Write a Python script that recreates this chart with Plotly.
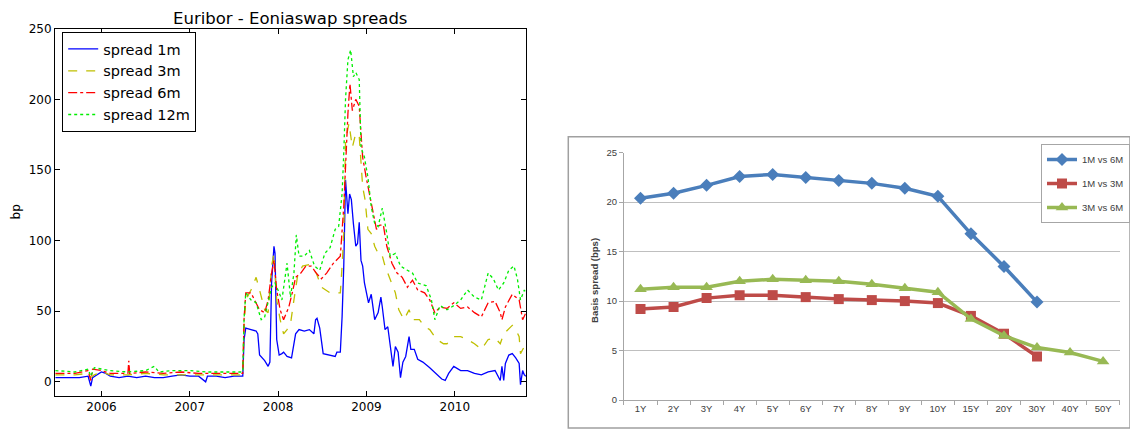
import plotly.graph_objects as go

# ---------------- Left chart data (decimal years, bp) ----------------
x_1m = [2005.48, 2005.60, 2005.75, 2005.85, 2005.88, 2005.90, 2005.95, 2006.00, 2006.05, 2006.10,
        2006.20, 2006.30, 2006.40, 2006.50, 2006.60, 2006.70, 2006.80, 2006.90, 2007.00, 2007.10,
        2007.18, 2007.20, 2007.30, 2007.40, 2007.50, 2007.60, 2007.615, 2007.634, 2007.693, 2007.751,
        2007.770, 2007.790, 2007.848, 2007.887, 2007.907, 2007.926, 2007.953, 2007.965, 2007.984, 2008.012,
        2008.043, 2008.062, 2008.101, 2008.152, 2008.198, 2008.237, 2008.296, 2008.354, 2008.405, 2008.424,
        2008.440, 2008.471, 2008.510, 2008.588, 2008.646, 2008.665, 2008.704, 2008.724, 2008.743, 2008.763,
        2008.790, 2008.809, 2008.829, 2008.852, 2008.879, 2008.899, 2008.918, 2008.938, 2008.957, 2008.977,
        2008.996, 2009.023, 2009.054, 2009.074, 2009.093, 2009.132, 2009.163, 2009.179, 2009.210, 2009.241,
        2009.268, 2009.300, 2009.327, 2009.358, 2009.385, 2009.412, 2009.444, 2009.482, 2009.502, 2009.541,
        2009.580, 2009.638, 2009.716, 2009.794, 2009.852, 2009.891, 2009.930, 2009.988, 2010.066, 2010.144,
        2010.222, 2010.300, 2010.377, 2010.455, 2010.494, 2010.514, 2010.533, 2010.553, 2010.572, 2010.611,
        2010.650, 2010.689, 2010.728, 2010.743, 2010.767, 2010.786, 2010.805]
y_1m = [3, 3, 3, 4, -3, 3, 5, 7, 6, 4,
        3, 4, 3, 4, 3, 3, 4, 5, 4, 4,
        0, 4, 4, 3, 4, 4, 30, 38, 37, 36,
        34, 19, 15, 11, 14, 70, 96, 91, 30, 19,
        20, 21, 18, 17, 34, 37, 36, 37, 34, 44,
        45, 38, 20, 19, 18, 21, 21, 46, 82, 143,
        119, 133, 129, 112, 96, 98, 113, 86, 82, 70,
        65, 56, 62, 52, 44, 49, 60, 53, 37, 39,
        25, 11, 25, 21, 3, 14, 18, 32, 23, 23,
        16, 14, 10, 5, 2, 1, 6, 11, 8, 8,
        6, 5, 7, 8, 4, 1, 11, 1, 13, 19,
        20, 17, 13, -2, 8, 5, 4]

x_3m = [2005.48, 2005.70, 2005.85, 2005.88, 2005.92, 2006.00, 2006.10, 2006.30, 2006.50, 2006.70,
        2006.90, 2007.10, 2007.30, 2007.50, 2007.60, 2007.615, 2007.634, 2007.693, 2007.751, 2007.790,
        2007.848, 2007.887, 2007.926, 2007.953, 2007.984, 2008.023, 2008.062, 2008.101, 2008.140, 2008.179,
        2008.218, 2008.276, 2008.354, 2008.432, 2008.490, 2008.588, 2008.704, 2008.724, 2008.743, 2008.763,
        2008.802, 2008.840, 2008.879, 2008.918, 2008.938, 2008.957, 2008.984, 2009.016, 2009.054, 2009.093,
        2009.132, 2009.171, 2009.210, 2009.268, 2009.327, 2009.366, 2009.424, 2009.482, 2009.521, 2009.599,
        2009.658, 2009.716, 2009.794, 2009.872, 2009.911, 2009.988, 2010.066, 2010.144, 2010.222, 2010.300,
        2010.377, 2010.455, 2010.514, 2010.553, 2010.611, 2010.650, 2010.689, 2010.728, 2010.743, 2010.786,
        2010.805]
y_3m = [5, 5, 6, 3, 5, 7, 5, 5, 6, 5,
        5, 5, 5, 5, 5, 40, 58, 65, 74, 65,
        51, 49, 82, 91, 58, 44, 34, 37, 41, 58,
        74, 82, 83, 77, 67, 63, 63, 82, 105, 171,
        183, 166, 176, 174, 157, 138, 129, 108, 105, 96,
        91, 91, 82, 72, 63, 51, 44, 51, 44, 44,
        39, 37, 30, 27, 27, 32, 32, 30, 27, 23,
        30, 31, 27, 34, 38, 40, 37, 32, 20, 25,
        26]

x_6m = [2005.48, 2005.70, 2005.85, 2005.88, 2005.90, 2006.00, 2006.10, 2006.30, 2006.31, 2006.32,
        2006.50, 2006.70, 2006.90, 2007.10, 2007.30, 2007.50, 2007.60, 2007.615, 2007.634, 2007.693,
        2007.732, 2007.790, 2007.848, 2007.887, 2007.926, 2007.953, 2007.984, 2008.023, 2008.062, 2008.121,
        2008.160, 2008.198, 2008.257, 2008.315, 2008.374, 2008.432, 2008.490, 2008.549, 2008.626, 2008.704,
        2008.743, 2008.763, 2008.790, 2008.813, 2008.840, 2008.879, 2008.918, 2008.938, 2008.957, 2008.996,
        2009.035, 2009.074, 2009.113, 2009.152, 2009.191, 2009.230, 2009.288, 2009.346, 2009.405, 2009.463,
        2009.521, 2009.580, 2009.658, 2009.716, 2009.774, 2009.833, 2009.911, 2009.988, 2010.066, 2010.144,
        2010.222, 2010.300, 2010.377, 2010.455, 2010.514, 2010.533, 2010.572, 2010.650, 2010.689, 2010.728,
        2010.767, 2010.805]
y_6m = [6, 6, 8, 1, 9, 8, 6, 6, 15, 6,
        7, 6, 7, 6, 6, 6, 6, 45, 63, 63,
        58, 51, 49, 58, 77, 86, 65, 51, 44, 53,
        63, 74, 77, 82, 82, 77, 73, 77, 84, 89,
        124, 157, 190, 211, 192, 200, 195, 176, 159, 145,
        133, 122, 108, 111, 111, 96, 84, 77, 74, 67,
        72, 65, 63, 58, 49, 53, 52, 56, 52, 53,
        49, 46, 56, 57, 49, 44, 53, 62, 60, 58,
        44, 49]

x_12m = [2005.48, 2005.70, 2005.85, 2005.88, 2005.92, 2006.00, 2006.10, 2006.30, 2006.50, 2006.60,
         2006.65, 2006.80, 2007.00, 2007.20, 2007.40, 2007.60, 2007.615, 2007.634, 2007.693, 2007.751,
         2007.809, 2007.848, 2007.926, 2007.965, 2008.012, 2008.043, 2008.101, 2008.140, 2008.179, 2008.206,
         2008.237, 2008.296, 2008.354, 2008.412, 2008.471, 2008.529, 2008.588, 2008.646, 2008.685, 2008.724,
         2008.743, 2008.763, 2008.790, 2008.821, 2008.852, 2008.879, 2008.918, 2008.938, 2008.977, 2009.016,
         2009.054, 2009.093, 2009.132, 2009.179, 2009.230, 2009.268, 2009.327, 2009.385, 2009.463, 2009.521,
         2009.580, 2009.677, 2009.735, 2009.774, 2009.833, 2009.911, 2009.988, 2010.066, 2010.144, 2010.222,
         2010.300, 2010.377, 2010.436, 2010.494, 2010.553, 2010.611, 2010.669, 2010.708, 2010.743, 2010.786,
         2010.805]
y_12m = [8, 7, 9, 4, 10, 9, 8, 7, 8, 11,
         7, 8, 8, 7, 7, 7, 45, 63, 58, 56,
         44, 46, 67, 70, 63, 58, 84, 60, 77, 104,
         89, 89, 93, 82, 79, 91, 95, 108, 110, 133,
         162, 200, 228, 235, 216, 219, 214, 166, 159, 145,
         124, 112, 110, 123, 105, 89, 91, 82, 79, 77,
         70, 68, 58, 44, 54, 51, 54, 58, 65, 60,
         58, 77, 73, 65, 70, 79, 82, 73, 58, 65,
         63]

year_ticks = [2006, 2007, 2008, 2009, 2010]
bp_ticks = [0, 50, 100, 150, 200, 250]

# ---------------- Right chart data ----------------
tenors = ["1Y", "2Y", "3Y", "4Y", "5Y", "6Y", "7Y", "8Y", "9Y", "10Y", "15Y", "20Y", "30Y", "40Y", "50Y"]
s_1m6m = [20.4, 20.9, 21.7, 22.6, 22.8, 22.5, 22.2, 21.9, 21.4, 20.6, 16.8, 13.5, 9.9, None, None]
s_1m3m = [9.2, 9.4, 10.3, 10.6, 10.6, 10.4, 10.2, 10.1, 10.0, 9.8, 8.5, 6.7, 4.4, None, None]
s_3m6m = [11.2, 11.4, 11.4, 12.0, 12.2, 12.1, 12.0, 11.7, 11.3, 10.9, 8.2, 6.5, 5.3, 4.8, 3.9]
basis_ticks = [0, 5, 10, 15, 20, 25]

W, H = 1130, 430
def px(x):
    return x / W
def py(y):
    return 1 - y / H

fig = go.Figure()

DJ = "DejaVu Sans"
left_series = [
    ("spread 1m", x_1m, y_1m, "#0000ff", "solid"),
    ("spread 3m", x_3m, y_3m, "#bfbf00", "dash"),
    ("spread 6m", x_6m, y_6m, "#ff0000", "dashdot"),
    ("spread 12m", x_12m, y_12m, "#00ee00", "dot"),
]
for name, xs, ys, col, dash in left_series:
    fig.add_trace(go.Scatter(x=xs, y=ys, name=name, mode="lines",
                             line=dict(color=col, width=1.3, dash=dash),
                             xaxis="x", yaxis="y", legend="legend"))

right_series = [
    ("1M vs 6M", s_1m6m, "#4a7ebb", "diamond", 10),
    ("1M vs 3M", s_1m3m, "#be4b48", "square", 10),
    ("3M vs 6M", s_3m6m, "#98b954", "triangle-up", 11),
]
for name, vals, col, sym, sz in right_series:
    fig.add_trace(go.Scatter(x=tenors, y=vals, name=name, mode="lines+markers",
                             line=dict(color=col, width=3.5),
                             marker=dict(symbol=sym, size=sz, color=col),
                             connectgaps=False, legendgroup=name,
                             xaxis="x2", yaxis="y2", legend="legend2"))

fig.update_layout(
    width=W, height=H,
    margin=dict(l=0, r=0, t=0, b=0),
    paper_bgcolor="white", plot_bgcolor="white",
    font=dict(family=DJ, size=12, color="black"),
    xaxis=dict(domain=[px(55.1), px(526.9)], range=[2005.475, 2010.805],
               tickvals=year_ticks, ticktext=[str(v) for v in year_ticks],
               showgrid=False, zeroline=False, showline=True, linecolor="black", linewidth=1,
               mirror="ticks", ticks="inside", ticklen=5, tickcolor="black",
               tickfont=dict(family=DJ, size=12), anchor="y", automargin=False),
    yaxis=dict(domain=[py(396), py(28.7)], range=[-10, 250], tickvals=bp_ticks,
               showgrid=False, zeroline=False, showline=True, linecolor="black", linewidth=1,
               mirror="ticks", ticks="inside", ticklen=5, tickcolor="black",
               tickfont=dict(family=DJ, size=12), anchor="x", automargin=False),
    xaxis2=dict(domain=[px(625.1), px(1121.6)], type="category", categoryorder="array",
                categoryarray=tenors, range=[-0.5, 14.5],
                showgrid=False, zeroline=False, showline=True, linecolor="#a6a6a6", linewidth=1,
                ticks="outside", tickson="boundaries", ticklen=4, tickcolor="#a6a6a6",
                tickfont=dict(family="Liberation Sans", size=9.5, color="#404040"),
                anchor="y2", automargin=False),
    yaxis2=dict(domain=[py(400), py(152.7)], range=[0, 25], tickvals=basis_ticks,
                showgrid=True, gridcolor="#bfbfbf", gridwidth=1, zeroline=False,
                showline=True, linecolor="#a6a6a6", linewidth=1,
                ticks="outside", ticklen=4, tickcolor="#a6a6a6",
                tickfont=dict(family="Liberation Sans", size=9.5, color="#404040"),
                anchor="x2", automargin=False),
    legend=dict(x=px(62.3), y=py(32), xanchor="left", yanchor="top",
                bgcolor="white", bordercolor="black", borderwidth=1,
                font=dict(family=DJ, size=14.5, color="black"), itemwidth=30),
    legend2=dict(x=px(1043), y=py(144), xanchor="left", yanchor="top",
                 bgcolor="white", bordercolor="#a6a6a6", borderwidth=1,
                 font=dict(family="Liberation Sans", size=9.5, color="#404040"),
                 itemwidth=30, tracegroupgap=5),
    showlegend=True,
)

fig.add_shape(type="rect", xref="paper", yref="paper",
              x0=px(569.3), x1=px(1132), y0=py(428), y1=py(136.7),
              line=dict(color="#a0a0a0", width=1.5), fillcolor="rgba(0,0,0,0)", layer="below")

fig.add_annotation(text="Euribor - Eoniaswap spreads", xref="paper", yref="paper",
                   x=px(291), y=py(18.3), xanchor="center", yanchor="middle", showarrow=False,
                   font=dict(family=DJ, size=16.5, color="black"))
fig.add_annotation(text="bp", xref="paper", yref="paper", x=px(16.5), y=py(212),
                   xanchor="center", yanchor="middle", showarrow=False, textangle=-90,
                   font=dict(family=DJ, size=12, color="black"))
fig.add_annotation(text="<b>Basis spread (bps)</b>", xref="paper", yref="paper", x=px(595), y=py(280),
                   xanchor="center", yanchor="middle", showarrow=False, textangle=-90,
                   font=dict(family="Liberation Sans", size=9.5, color="#404040"))

# remove the browser's default 8px body margin so the figure sits at the page origin
fig.write_html("out.html", config={"displayModeBar": False},
               post_script="document.body.style.margin='0px';document.body.style.overflow='hidden';")
